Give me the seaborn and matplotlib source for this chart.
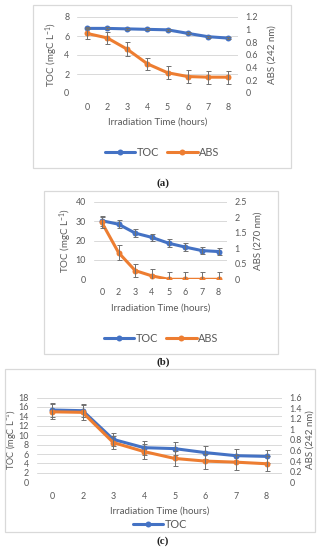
import numpy as np
import matplotlib
matplotlib.use("Agg")
import matplotlib.pyplot as plt
from matplotlib.patches import Rectangle
from matplotlib.lines import Line2D
from matplotlib.ticker import FuncFormatter
import seaborn as sns

# ---------------- data ----------------
times = ["0", "2", "3", "4", "5", "6", "7", "8"]

# panel (a)
toc_a = [6.8, 6.8, 6.75, 6.7, 6.65, 6.28, 5.93, 5.78]
toc_a_err = [0.1, 0.1, 0.1, 0.1, 0.1, 0.1, 0.1, 0.1]
abs_a = [0.94, 0.87, 0.69, 0.46, 0.32, 0.26, 0.25, 0.25]
abs_a_err = [0.09, 0.1, 0.11, 0.1, 0.1, 0.1, 0.1, 0.1]

# panel (b)
toc_b = [30.2, 28.4, 23.8, 21.6, 18.6, 16.6, 14.8, 14.3]
toc_b_err = [2.6, 2.0, 2.0, 2.0, 2.0, 2.0, 2.0, 2.0]
abs_b = [1.83, 0.86, 0.28, 0.11, 0.0, 0.0, 0.0, 0.0]
abs_b_err = [0.19, 0.23, 0.22, 0.22, 0.23, 0.23, 0.23, 0.23]

# panel (c)
toc_c = [15.35, 15.2, 9.1, 7.35, 7.15, 6.3, 5.65, 5.5]
toc_c_err = [1.4, 1.4, 1.4, 1.45, 1.45, 1.4, 1.4, 1.35]
abs_c = [1.33, 1.32, 0.75, 0.58, 0.45, 0.40, 0.38, 0.35]
abs_c_err = [0.14, 0.14, 0.13, 0.14, 0.14, 0.14, 0.14, 0.14]

BLUE = "#4472C4"
ORANGE = "#ED7D31"
GREY = "#595959"
GRID = "#D9D9D9"

sns.set_theme(style="white")
plt.rcParams["font.family"] = ["Lato", "DejaVu Sans"]
plt.rcParams["mathtext.default"] = "regular"

W, H = 326, 550
fig = plt.figure(figsize=(W / 100, H / 100), dpi=100)
FS = 6.4


def fx(x):
    return x / W


def fy(y):
    return 1 - y / H


def fmt(v, _):
    return f"{v:g}"


#
# Draw one Excel-like panel with box, two y axes, legend and caption
#
def draw_panel(box, plot, toc, toc_err, abs_, abs_err, ylim_l, ystep_l, ylim_r, ystep_r,
               right_label, ylab_x, ylab2_x, tick_y, xlab_y, leg_y, show_abs_legend,
               caption, cap_y, ylab_fs=FS + 0.6):
    bx0, by0, bx1, by1 = box
    fig.add_artist(Rectangle((fx(bx0), fy(by1)), fx(bx1 - bx0), (by1 - by0) / H,
                             transform=fig.transFigure, fill=False, ec=GRID, lw=0.9))

    l, t, r, b = plot
    ax = fig.add_axes([fx(l), fy(b), fx(r - l), (b - t) / H])
    pos = np.arange(len(times))

    sns.lineplot(x=pos, y=toc, ax=ax, color=BLUE, lw=2.2, marker="o", ms=4.3,
                 mec=BLUE, mew=0, zorder=3)
    ax.errorbar(pos, toc, yerr=toc_err, fmt="none", ecolor="#707070", elinewidth=0.7,
                capsize=1.8, capthick=0.7, zorder=4)
    ax.set_xlim(-0.5, len(times) - 0.5)
    ax.set_ylim(*ylim_l)
    ax.set_yticks(np.arange(ylim_l[0], ylim_l[1] + ystep_l / 2, ystep_l))
    ax.set_xticks(pos)
    ax.set_xticklabels(times)
    ax.yaxis.set_major_formatter(FuncFormatter(fmt))
    ax.yaxis.grid(True, color=GRID, lw=0.7)
    ax.set_axisbelow(True)

    ax2 = ax.twinx()
    sns.lineplot(x=pos, y=abs_, ax=ax2, color=ORANGE, lw=2.2, marker="o", ms=4.3,
                 mec=ORANGE, mew=0, zorder=3)
    ax2.errorbar(pos, abs_, yerr=abs_err, fmt="none", ecolor="#707070", elinewidth=0.7,
                 capsize=1.8, capthick=0.7, zorder=4)
    ax2.set_ylim(*ylim_r)
    ax2.set_yticks(np.arange(ylim_r[0], ylim_r[1] + ystep_r / 2, ystep_r))
    ax2.yaxis.set_major_formatter(FuncFormatter(fmt))
    ax2.grid(False)

    for a in (ax, ax2):
        for s in a.spines.values():
            s.set_visible(False)
        a.tick_params(length=0, labelsize=FS, colors=GREY, pad=5.5)
        a.set_ylabel("")
        a.set_xlabel("")
    ax.tick_params(axis="x", pad=(tick_y - b) / 1.39 - 2.8)

    ax.set_ylabel(r"TOC (mgC L$^{-1}$)", fontsize=ylab_fs, color=GREY)
    ax.yaxis.set_label_coords(fx(ylab_x), fy((t + b) / 2), transform=fig.transFigure)
    ax.yaxis.label.set_va("center")
    ax2.set_ylabel(right_label, fontsize=FS + 0.6, color=GREY, rotation=90)
    ax2.yaxis.set_label_coords(fx(ylab2_x), fy((t + b) / 2), transform=fig.transFigure)
    ax2.yaxis.label.set_va("center")
    ax.set_xlabel("Irradiation Time (hours)", fontsize=FS + 0.6, color=GREY)
    ax.xaxis.set_label_coords(fx((l + r) / 2), fy(xlab_y), transform=fig.transFigure)
    ax.xaxis.label.set_va("center")

    handles = [Line2D([], [], color=BLUE, lw=2.2, marker="o", ms=4.3, mew=0)]
    labels = ["TOC"]
    if show_abs_legend:
        handles.append(Line2D([], [], color=ORANGE, lw=2.2, marker="o", ms=4.3, mew=0))
        labels.append("ABS")
    ax.legend(handles, labels, loc="center", bbox_to_anchor=(fx((bx0 + bx1) / 2), fy(leg_y)),
              bbox_transform=fig.transFigure, ncol=2, frameon=False, fontsize=FS + 1.4,
              handlelength=2.8, handletextpad=0.1, columnspacing=0.8, labelcolor=GREY,
              borderpad=0, borderaxespad=0)

    fig.text(fx(163), fy(cap_y), caption, ha="center", va="center",
             family="Liberation Serif", fontweight="bold", fontsize=7.8, color="#222222")


draw_panel((33, 5, 291, 168), (77, 17, 238, 93), toc_a, toc_a_err, abs_a, abs_a_err,
           (0, 8), 2, (0, 1.2), 0.2, "ABS (242 nm)", 52, 272, 107, 122, 152, True,
           "(a)", 183)

draw_panel((44, 191, 278, 354), (93.5, 201.7, 227, 279.3), toc_b, toc_b_err, abs_b, abs_b_err,
           (0, 40), 10, (0, 2.5), 0.5, "ABS (270 nm)", 66, 258, 292, 308, 338, True,
           "(b)", 362)

draw_panel((5, 369, 315, 532), (36.6, 397.5, 282, 482.3), toc_c, toc_c_err, abs_c, abs_c_err,
           (0, 18), 2, (0, 1.6), 0.2, "ABS (242 nm)", 11.5, 310, 496, 511, 524, False,
           "(c)", 541, ylab_fs=FS + 0.2)

fig.savefig("out.png", dpi=100, facecolor="white")
